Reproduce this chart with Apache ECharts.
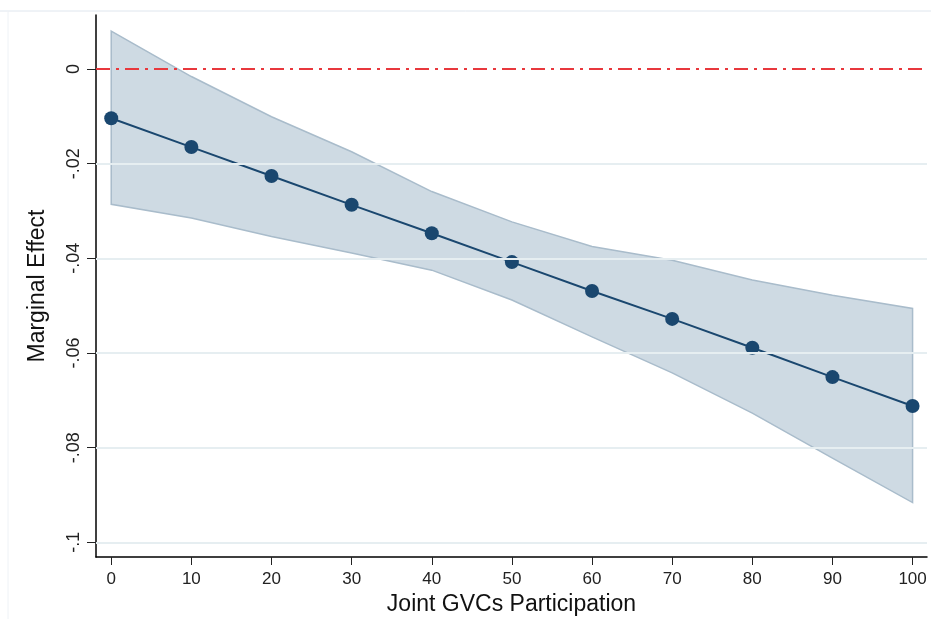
<!DOCTYPE html>
<html>
<head>
<meta charset="utf-8">
<script src="https://cdn.jsdelivr.net/npm/echarts@6/dist/echarts.min.js"></script>
<style>
  html, body { margin: 0; padding: 0; background: #fff; }
  #main { width: 931px; height: 619px; }
</style>
</head>
<body>
<div id="main"></div>
<script>
// x values (Joint GVCs Participation)
const xs = [0, 10, 20, 30, 40, 50, 60, 70, 80, 90, 100];
// marginal effect point estimates
const effect = [-0.0104, -0.0165, -0.0226, -0.0287, -0.0347, -0.0408, -0.0469, -0.0528, -0.0589, -0.0651, -0.0712];
// confidence interval bounds
const upper = [0.0080, -0.0016, -0.0101, -0.0175, -0.0259, -0.0323, -0.0375, -0.0404, -0.0446, -0.0478, -0.0506];
const lower = [-0.0286, -0.0315, -0.0354, -0.0389, -0.0425, -0.0488, -0.0566, -0.0642, -0.0727, -0.0822, -0.0916];
// tick labels
const yTicks = [0, -0.02, -0.04, -0.06, -0.08, -0.1];
const xTicks = [0, 10, 20, 30, 40, 50, 60, 70, 80, 90, 100];

const font = 'Liberation Sans, Arial, sans-serif';
const navy = '#1a476f';

const band = xs.map((x, i) => [x, upper[i], lower[i]]);

const chart = echarts.init(document.getElementById('main'));
chart.setOption({
  animation: false,
  grid: { left: 96, top: 15, right: 4, bottom: 62, outerBoundsMode: 'none' },
  graphic: [
    { type: 'line', shape: { x1: 0, y1: 11, x2: 931, y2: 11 }, style: { stroke: '#dfe6ee', lineWidth: 1 } },
    { type: 'line', shape: { x1: 8, y1: 11, x2: 8, y2: 619 }, style: { stroke: '#eef2f6', lineWidth: 1 } }
  ],
  xAxis: {
    type: 'value',
    min: -1.9,
    max: 101.8,
    name: 'Joint GVCs Participation',
    nameLocation: 'middle',
    nameGap: 36,
    nameTextStyle: { fontFamily: font, fontSize: 23, color: '#111' },
    axisLine: { onZero: false, lineStyle: { color: '#000', width: 1.5 } },
    axisTick: { show: true, length: 8, customValues: xTicks, lineStyle: { color: '#222' } },
    axisLabel: { customValues: xTicks, fontFamily: font, fontSize: 17, color: '#222', margin: 14 },
    splitLine: { show: false }
  },
  yAxis: {
    type: 'value',
    min: -0.1031,
    max: 0.0114,
    name: 'Marginal Effect',
    nameLocation: 'middle',
    nameGap: 47,
    nameRotate: 90,
    nameTextStyle: { fontFamily: font, fontSize: 23, color: '#111' },
    axisLine: { show: true, onZero: false, lineStyle: { color: '#000', width: 1.5 } },
    axisTick: { show: true, length: 9, customValues: yTicks, lineStyle: { color: '#222' } },
    axisLabel: {
      customValues: yTicks,
      rotate: 90,
      fontFamily: font, fontSize: 18, color: '#222', margin: 13,
      formatter: v => v === 0 ? '0' : String(v).replace('0.', '.')
    },
    splitLine: { show: false }
  },
  series: [
    {
      type: 'custom',
      data: band,
      z: 1,
      renderItem: (params, api) => {
        if (params.dataIndex !== 0) return;
        const top = band.map(d => api.coord([d[0], d[1]]));
        const bot = band.map(d => api.coord([d[0], d[2]])).reverse();
        return {
          type: 'polygon',
          shape: { points: top.concat(bot) },
          style: { fill: 'rgba(190,206,218,0.75)', stroke: '#a9bccb', lineWidth: 1.5 }
        };
      },
      encode: { x: 0, y: [1, 2] },
      silent: true
    },
    {
      type: 'line',
      data: xs.map((x, i) => [x, effect[i]]),
      z: 3,
      symbol: 'circle',
      symbolSize: 14,
      lineStyle: { color: navy, width: 2 },
      itemStyle: { color: navy },
      markLine: {
        silent: true,
        symbol: 'none',
        label: { show: false },
        data: yTicks.filter(v => v !== 0).map(v => ({ yAxis: v, lineStyle: { color: '#e6eef1', width: 2, type: 'solid' } }))
          .concat([{ yAxis: 0, lineStyle: { color: '#e8383d', width: 2, type: [14, 6, 3, 6] } }])
      }
    }
  ]
});
</script>
</body>
</html>
